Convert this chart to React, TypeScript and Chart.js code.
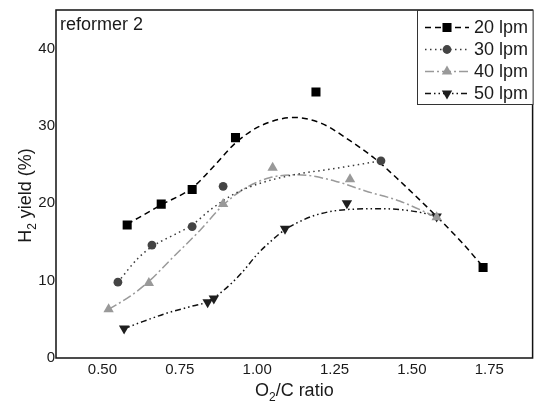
import React, { useEffect, useRef } from 'react';
import { Chart, registerables } from 'chart.js';

Chart.register(...registerables);

// ---- data ----
const seriesNames = ['20 lpm', '30 lpm', '40 lpm', '50 lpm'];

const x20 = [0.58, 0.69, 0.79, 0.93, 1.19, 1.73];
const y20 = [17.2, 19.9, 21.8, 28.5, 34.4, 11.7];
const x30 = [0.55, 0.66, 0.79, 0.89, 1.40];
const y30 = [9.8, 14.6, 17.0, 22.2, 25.5];
const x40 = [0.52, 0.65, 0.89, 1.05, 1.30, 1.58];
const y40 = [6.3, 9.7, 19.9, 24.6, 23.1, 18.2];
const x50 = [0.57, 0.84, 0.86, 1.09, 1.29, 1.58];
const y50 = [3.8, 7.2, 7.7, 16.7, 20.0, 18.3];

// fitted trend curves
const fx20 = [0.58, 0.69, 0.79, 0.86, 0.93, 1.01, 1.12, 1.21, 1.30, 1.38, 1.45, 1.58, 1.66, 1.73];
const fy20 = [17.3, 19.8, 22.0, 24.8, 27.8, 30.0, 31.1, 30.3, 28.1, 25.8, 23.3, 18.3, 15.0, 11.8];
const fx30 = [0.55, 0.615, 0.66, 0.69, 0.75, 0.79, 0.85, 0.93, 1.01, 1.12, 1.25, 1.40];
const fy30 = [9.8, 12.9, 14.4, 15.1, 16.3, 17.2, 19.2, 21.3, 22.6, 23.7, 24.5, 25.5];
const fx40 = [0.52, 0.59, 0.65, 0.72, 0.815, 0.888, 0.955, 1.04, 1.13, 1.25, 1.35, 1.46, 1.58];
const fy40 = [6.3, 8.0, 9.9, 12.7, 16.5, 19.7, 21.8, 23.3, 23.7, 22.9, 21.6, 20.3, 18.2];
const fx50 = [0.57, 0.63, 0.70, 0.78, 0.84, 0.89, 0.95, 1.00, 1.05, 1.09, 1.13, 1.19, 1.29, 1.40, 1.46, 1.53, 1.58];
const fy50 = [3.8, 4.7, 5.7, 6.6, 7.3, 8.7, 11.0, 13.4, 15.3, 16.6, 17.5, 18.5, 19.2, 19.3, 19.2, 18.8, 18.3];

const xTicks = [0.5, 0.75, 1.0, 1.25, 1.5, 1.75];
const yTicks = [0, 10, 20, 30, 40];

const FONT = "'Liberation Sans', Arial, sans-serif";
const TEXT = '#1a1a1a';

const styles = [
  { color: '#000000', marker: '#000000', dash: [6, 4], shape: 'rect', r: 6.4 },
  { color: '#3a3a3a', marker: '#444444', dash: [1.5, 3.5], shape: 'circle', r: 4.4 },
  { color: '#9a9a9a', marker: '#999999', dash: [9, 3, 2, 3], shape: 'triangle', r: 6.0 },
  { color: '#111111', marker: '#1e1e1e', dash: [6, 3, 1.5, 3, 1.5, 3], shape: 'invtriangle', r: 6.0 },
];

const pts = (xs: number[], ys: number[]) => xs.map((x, i) => ({ x, y: ys[i] }));

function drawMarker(ctx: CanvasRenderingContext2D, shape: string, x: number, y: number, r: number, color: string) {
  ctx.save();
  ctx.fillStyle = color;
  ctx.setLineDash([]);
  ctx.beginPath();
  if (shape === 'rect') {
    const s = r * Math.SQRT1_2;
    ctx.rect(x - s, y - s, 2 * s, 2 * s);
  } else if (shape === 'circle') {
    ctx.arc(x, y, r, 0, Math.PI * 2);
  } else if (shape === 'triangle') {
    ctx.moveTo(x, y - r);
    ctx.lineTo(x + r * Math.sin((2 * Math.PI) / 3), y - r * Math.cos((2 * Math.PI) / 3));
    ctx.lineTo(x + r * Math.sin((4 * Math.PI) / 3), y - r * Math.cos((4 * Math.PI) / 3));
    ctx.closePath();
  } else {
    ctx.moveTo(x, y + r);
    ctx.lineTo(x + r * Math.sin((2 * Math.PI) / 3), y + r * Math.cos((2 * Math.PI) / 3));
    ctx.lineTo(x + r * Math.sin((4 * Math.PI) / 3), y + r * Math.cos((4 * Math.PI) / 3));
    ctx.closePath();
  }
  ctx.fill();
  ctx.restore();
}

const decorPlugin = {
  id: 'decor',
  afterDraw(chart: any) {
    const ctx: CanvasRenderingContext2D = chart.ctx;
    const a = chart.chartArea;
    ctx.save();
    // frame
    ctx.strokeStyle = '#111';
    ctx.lineWidth = 1.5;
    ctx.setLineDash([]);
    ctx.strokeRect(a.left, a.top, a.right - a.left, a.bottom - a.top);

    // panel label
    ctx.fillStyle = TEXT;
    ctx.font = `18px ${FONT}`;
    ctx.textAlign = 'left';
    ctx.textBaseline = 'alphabetic';
    ctx.fillText('reformer 2', a.left + 4, a.top + 20);

    // legend
    const lx = 417, ly = a.top, lw = a.right - 417 + 1, lh = 95;
    ctx.fillStyle = '#fff';
    ctx.fillRect(lx, ly, lw, lh);
    ctx.strokeStyle = '#333';
    ctx.lineWidth = 1;
    ctx.strokeRect(lx + 0.5, ly + 0.5, lw - 1, lh - 1);
    seriesNames.forEach((name, i) => {
      const st = styles[i];
      const cy = ly + 17.5 + i * 22;
      ctx.strokeStyle = st.color;
      ctx.lineWidth = 1.5;
      ctx.setLineDash(st.dash);
      ctx.beginPath();
      ctx.moveTo(425, cy);
      ctx.lineTo(469, cy);
      ctx.stroke();
      drawMarker(ctx, st.shape, 447, cy, st.r, st.marker);
      ctx.fillStyle = TEXT;
      ctx.font = `18px ${FONT}`;
      ctx.textBaseline = 'middle';
      ctx.fillText(name, 474, cy + 1);
    });

    // axis titles with subscripts
    ctx.setLineDash([]);
    ctx.fillStyle = TEXT;
    ctx.textBaseline = 'alphabetic';
    const big = `18px ${FONT}`;
    const small = `12px ${FONT}`;
    const drawSub = (parts: [string, boolean][], cx: number, by: number) => {
      let w = 0;
      parts.forEach(([t, s]) => { ctx.font = s ? small : big; w += ctx.measureText(t).width; });
      let x = cx - w / 2;
      parts.forEach(([t, s]) => {
        ctx.font = s ? small : big;
        ctx.fillText(t, x, s ? by + 5 : by);
        x += ctx.measureText(t).width;
      });
    };
    drawSub([['O', false], ['2', true], ['/C ratio', false]], (a.left + a.right) / 2, 396);
    ctx.save();
    ctx.translate(31, 195.5);
    ctx.rotate(-Math.PI / 2);
    drawSub([['H', false], ['2', true], [' yield (%)', false]], 0, 0);
    ctx.restore();
    ctx.restore();
  },
};

export default function App() {
  const ref = useRef<HTMLCanvasElement>(null);
  useEffect(() => {
    document.body.style.margin = '0';
    const scatterSets = [
      [x20, y20], [x30, y30], [x40, y40], [x50, y50],
    ].map(([xs, ys], i) => ({
      label: seriesNames[i],
      data: pts(xs, ys),
      showLine: false,
      pointStyle: styles[i].shape === 'invtriangle' ? 'triangle' : styles[i].shape,
      rotation: styles[i].shape === 'invtriangle' ? 180 : 0,
      radius: styles[i].r,
      backgroundColor: styles[i].marker,
      borderColor: styles[i].marker,
      borderWidth: 0,
      order: 0,
    }));
    const curveSets = [
      [fx20, fy20], [fx30, fy30], [fx40, fy40], [fx50, fy50],
    ].map(([xs, ys], i) => ({
      label: seriesNames[i] + ' fit',
      data: pts(xs, ys),
      showLine: true,
      pointRadius: 0,
      borderColor: styles[i].color,
      borderWidth: 1.5,
      borderDash: styles[i].dash,
      cubicInterpolationMode: 'monotone' as const,
      fill: false,
      order: 1,
    }));
    const chart = new Chart(ref.current as HTMLCanvasElement, {
      type: 'scatter',
      data: { datasets: [...curveSets, ...scatterSets] as any },
      options: {
        animation: false,
        responsive: false,
        layout: { padding: { top: 6, right: 6, left: 0, bottom: 0 } },
        plugins: { legend: { display: false }, tooltip: { enabled: false } },
        scales: {
          x: {
            type: 'linear',
            min: 0.35,
            max: 1.89,
            grid: { display: false, drawTicks: false },
            border: { display: false },
            afterBuildTicks: (s: any) => { s.ticks = xTicks.map((v) => ({ value: v })); },
            afterFit: (s: any) => { s.height = 45; },
            ticks: {
              padding: 3,
              color: TEXT,
              font: { family: FONT, size: 15 },
              callback: (v: any) => Number(v).toFixed(2),
            },
          },
          y: {
            type: 'linear',
            min: 0,
            max: 45,
            grid: { display: false, drawTicks: false },
            border: { display: false },
            afterBuildTicks: (s: any) => { s.ticks = yTicks.map((v) => ({ value: v })); },
            afterFit: (s: any) => { s.width = 56; },
            ticks: {
              padding: 1,
              color: TEXT,
              font: { family: FONT, size: 15 },
              callback: (v: any) => String(v),
            },
          },
        },
      },
      plugins: [decorPlugin],
    });
    return () => chart.destroy();
  }, []);
  return (
    <div style={{ width: 539, height: 403 }}>
      <canvas ref={ref} width={539} height={403} style={{ display: 'block', width: 539, height: 403 }} />
    </div>
  );
}
